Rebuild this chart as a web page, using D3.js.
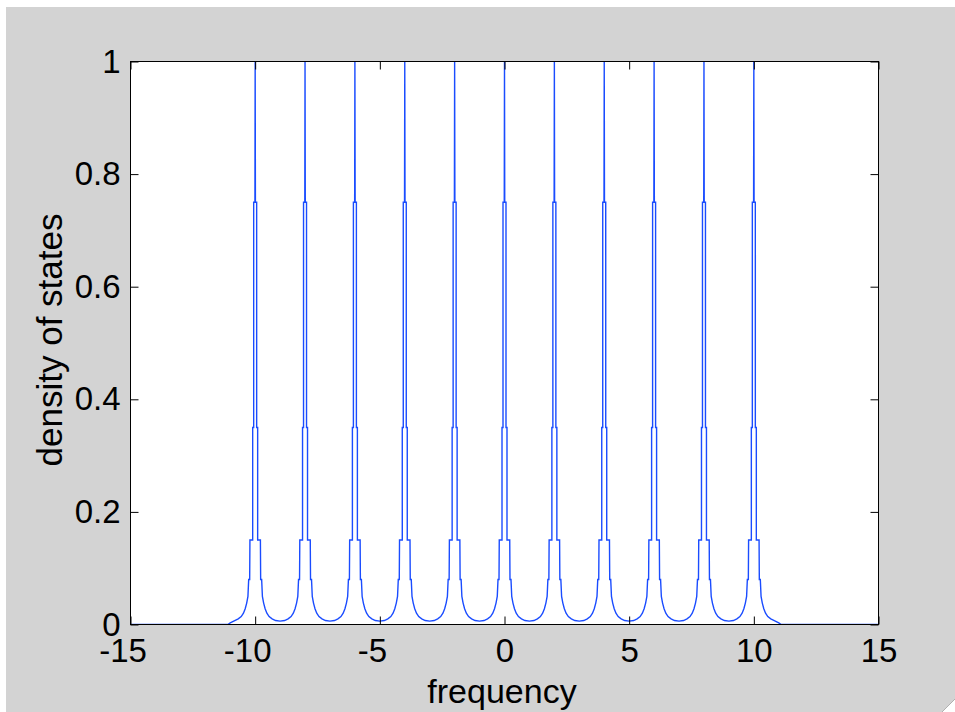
<!DOCTYPE html>
<html>
<head>
<meta charset="utf-8">
<script src="https://cdn.jsdelivr.net/npm/d3@7"></script>
<style>
  html, body { margin: 0; padding: 0; background: #ffffff; }
  svg { display: block; }
  text { font-family: "Liberation Sans", Arial, Helvetica, sans-serif; fill: #000; }
</style>
</head>
<body>
<svg id="chart" width="955" height="712"></svg>
<script>
// ---- data ----
const peakCenters = [-10, -8, -6, -4, -2, 0, 2, 4, 6, 8, 10];
// half-profile of one peak: offset from centre (frequency units) and density
const profileOffsets = [0.00, 0.01, 0.06, 0.06, 0.10, 0.10, 0.21, 0.22, 0.26, 0.29, 0.34, 0.40, 0.47, 0.56, 0.68, 0.82];
const profileValues  = [1.00, 0.75, 0.75, 0.35, 0.35, 0.15, 0.15, 0.08, 0.08, 0.05, 0.038, 0.028, 0.020, 0.014, 0.010, 0.007];
// value half-way between two neighbouring peaks
const midOffset = 1.0;
const midValue = 0.006;
// outer tails of the first/last peak
const tailOffsets = [1.00, 1.10];
const tailValues  = [0.003, 0.0];
const xDomain = [-15, 15];
const yDomain = [0, 1];
const xTicks = [-15, -10, -5, 0, 5, 10, 15];
const xTickLabels = ["-15", "-10", "-5", "0", "5", "10", "15"];
const yTicks = [0, 0.2, 0.4, 0.6, 0.8, 1];
const yTickLabels = ["0", "0.2", "0.4", "0.6", "0.8", "1"];
const xLabel = "frequency";
const yLabel = "density of states";

// ---- layout ----
const svg = d3.select("#chart");
const L = 130.5, R = 878.5, T = 61.5, B = 624.5;

// figure background
svg.append("rect").attr("x", 6).attr("y", 7).attr("width", 955 - 6).attr("height", 712 - 7).attr("fill", "#d3d3d3");
svg.append("polygon").attr("points", "955,699 955,712 942,712").attr("fill", "#ffffff");
svg.append("line").attr("x1", 942).attr("y1", 712).attr("x2", 955).attr("y2", 699).attr("stroke", "#b0b0b0").attr("stroke-width", 1);

const x = d3.scaleLinear().domain(xDomain).range([L, R]);
const y = d3.scaleLinear().domain(yDomain).range([B, T]);

// plot area
svg.append("rect").attr("x", L).attr("y", T).attr("width", R - L).attr("height", B - T).attr("fill", "#ffffff");

// build the curve points from the arrays
const pts = [];
pts.push([xDomain[0], 0]);
peakCenters.forEach((c, i) => {
  if (i === 0) {
    for (let k = tailOffsets.length - 1; k >= 0; k--) pts.push([c - tailOffsets[k], tailValues[k]]);
  }
  for (let k = profileOffsets.length - 1; k >= 1; k--) pts.push([c - profileOffsets[k], profileValues[k]]);
  pts.push([c + profileOffsets[0], profileValues[0]]);
  for (let k = 1; k < profileOffsets.length; k++) pts.push([c + profileOffsets[k], profileValues[k]]);
  if (i < peakCenters.length - 1) {
    pts.push([c + midOffset, midValue]);
  } else {
    for (let k = 0; k < tailOffsets.length; k++) pts.push([c + tailOffsets[k], tailValues[k]]);
  }
});
pts.push([xDomain[1], 0]);

svg.append("clipPath").attr("id", "clip").append("rect")
  .attr("x", L).attr("y", T - 1).attr("width", R - L).attr("height", B - T + 1);

const line = d3.line().x(d => x(d[0])).y(d => y(d[1]));
svg.append("path")
  .datum(pts)
  .attr("clip-path", "url(#clip)")
  .attr("d", line)
  .attr("fill", "none")
  .attr("stroke", "#1a4cff")
  .attr("stroke-width", 1.4)
  .attr("stroke-linejoin", "miter");

// axes (ticks inward, MATLAB style)
const fs = 33;
const gx = svg.append("g").attr("transform", `translate(0,${B})`)
  .call(d3.axisBottom(x).tickValues(xTicks).tickFormat((d, i) => xTickLabels[i]).tickSize(-8).tickPadding(14).tickSizeOuter(0));
const gxt = svg.append("g").attr("transform", `translate(0,${T})`)
  .call(d3.axisTop(x).tickValues(xTicks).tickFormat("").tickSize(-8).tickSizeOuter(0));
const gy = svg.append("g").attr("transform", `translate(${L},0)`)
  .call(d3.axisLeft(y).tickValues(yTicks).tickFormat((d, i) => yTickLabels[i]).tickSize(-8).tickPadding(10).tickSizeOuter(0));
const gyr = svg.append("g").attr("transform", `translate(${R},0)`)
  .call(d3.axisRight(y).tickValues(yTicks).tickFormat("").tickSize(-8).tickSizeOuter(0));

[gx, gxt, gy, gyr].forEach(g => {
  g.select(".domain").remove();
  g.selectAll(".tick line").attr("stroke", "#000").attr("stroke-width", 1);
  g.selectAll(".tick text").attr("font-size", fs).attr("font-family", "Liberation Sans, Arial, sans-serif").attr("fill", "#000");
});
// negative labels sit slightly left of their tick in the reference
gx.selectAll(".tick text").attr("dx", d => d < 0 ? -8 : 0);

// box
svg.append("rect").attr("x", L).attr("y", T).attr("width", R - L).attr("height", B - T)
  .attr("fill", "none").attr("stroke", "#000").attr("stroke-width", 1);

// axis labels
svg.append("text").attr("x", 502).attr("y", 703).attr("text-anchor", "middle")
  .attr("font-size", 34).text(xLabel);
svg.append("text").attr("transform", `translate(62,${(T + B) / 2 - 3}) rotate(-90)`).attr("text-anchor", "middle")
  .attr("font-size", 35).text(yLabel);
</script>
</body>
</html>
